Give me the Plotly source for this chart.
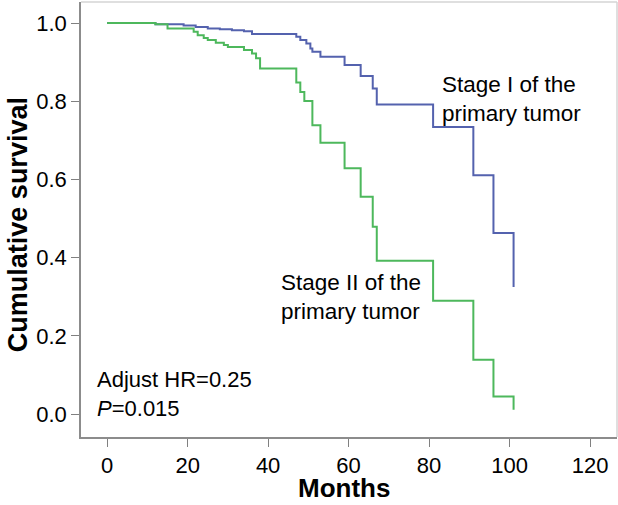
import plotly.graph_objects as go

# Kaplan-Meier step data (months at which survival drops, survival after the drop)
stage1_months = [0, 12, 19, 22, 25, 28, 31, 34, 36, 47, 48, 49.5, 50.5, 51, 53, 59, 63, 66, 67, 81, 91, 96, 101]
stage1_surv = [1.0, 0.997, 0.994, 0.990, 0.986, 0.984, 0.982, 0.979, 0.972, 0.965, 0.957, 0.948, 0.935,
               0.927, 0.914, 0.893, 0.865, 0.833, 0.792, 0.734, 0.611, 0.463, 0.325]

stage2_months = [0, 12, 15, 21.5, 22.5, 24, 25, 27, 29, 30, 34, 36, 37, 38, 47, 48, 49, 51, 53, 59, 63, 66,
                 67, 81, 91, 96, 101]
stage2_surv = [1.0, 0.997, 0.986, 0.978, 0.969, 0.962, 0.957, 0.950, 0.944, 0.939, 0.931, 0.922, 0.910,
               0.884, 0.848, 0.824, 0.801, 0.739, 0.694, 0.629, 0.556, 0.479, 0.392, 0.290, 0.139, 0.045, 0.011]

x_ticks = [0, 20, 40, 60, 80, 100, 120]
y_ticks = [0.0, 0.2, 0.4, 0.6, 0.8, 1.0]
y_tick_labels = ["0.0", "0.2", "0.4", "0.6", "0.8", "1.0"]

FONT = "Liberation Sans, Arial, sans-serif"
BLUE = "#5462ae"
GREEN = "#4db85c"

fig = go.Figure()
fig.add_trace(go.Scatter(x=stage1_months, y=stage1_surv, mode="lines", line_shape="hv",
                         line=dict(color=BLUE, width=2), name="Stage I", showlegend=False))
fig.add_trace(go.Scatter(x=stage2_months, y=stage2_surv, mode="lines", line_shape="hv",
                         line=dict(color=GREEN, width=2), name="Stage II", showlegend=False))

fig.update_layout(
    width=618, height=505,
    margin=dict(l=81, r=1, t=2, b=68, autoexpand=False),
    paper_bgcolor="white", plot_bgcolor="white",
    font=dict(family=FONT, color="black", size=22),
    xaxis=dict(range=[-6.5, 126.7], tickvals=x_ticks, ticks="outside", ticklen=8, tickcolor="#808080",
               showgrid=False, zeroline=False, showline=True, linecolor="#8c8c8c", linewidth=1.5,
               tickfont=dict(size=22), automargin=False),
    yaxis=dict(range=[-0.0588, 1.054], tickvals=y_ticks, ticktext=y_tick_labels, ticks="outside", ticklen=8,
               tickcolor="#808080", showgrid=False, zeroline=False, showline=True, linecolor="#8c8c8c",
               linewidth=1.5, tickfont=dict(size=22), automargin=False),
    shapes=[
        dict(type="line", xref="paper", yref="paper", x0=0, x1=1, y0=1, y1=1,
             line=dict(color="#d4d4d4", width=1.5)),
        dict(type="line", xref="paper", yref="paper", x0=1, x1=1, y0=0, y1=1,
             line=dict(color="#d4d4d4", width=1.5)),
    ],
    annotations=[
        dict(x=0.4907, y=-0.1563, xref="paper", yref="paper", text="<b>Months</b>", showarrow=False,
             xanchor="center", yanchor="bottom", font=dict(size=26)),
        dict(x=-0.1175, y=0.487, xref="paper", yref="paper", text="<b>Cumulative survival</b>",
             showarrow=False, textangle=-90, xanchor="center", yanchor="middle", font=dict(size=27)),
        dict(x=82.6, y=0.805, xref="x", yref="y", text="Stage I of the<br>primary tumor", showarrow=False,
             xanchor="left", yanchor="middle", align="left", font=dict(size=22.5)),
        dict(x=42.8, y=0.30, xref="x", yref="y", text="Stage II of the<br>primary tumor", showarrow=False,
             xanchor="left", yanchor="middle", align="left", font=dict(size=22.5)),
        dict(x=-3.1, y=0.05, xref="x", yref="y", text="Adjust HR=0.25<br><i>P</i>=0.015", showarrow=False,
             xanchor="left", yanchor="middle", align="left", font=dict(size=22)),
    ],
)

fig.write_html("out.html", config={"displayModeBar": False},
               post_script="document.body.style.margin='0';document.body.style.overflow='hidden';")
